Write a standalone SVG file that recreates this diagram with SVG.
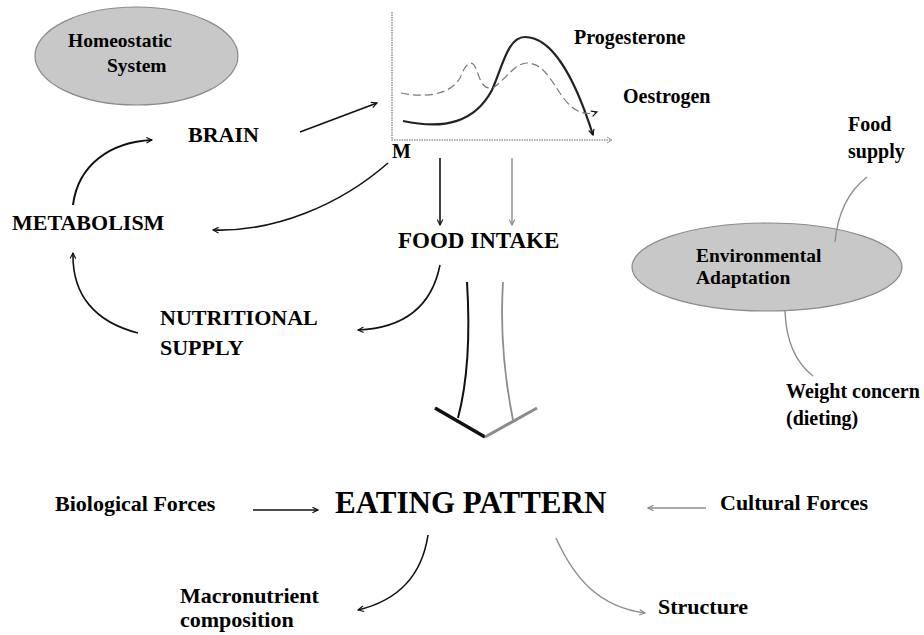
<svg xmlns="http://www.w3.org/2000/svg" width="924" height="635" viewBox="0 0 924 635">
<style>
  text { font-family: "Liberation Serif", "Times New Roman", serif; font-weight: bold; fill: #000; }
  .lbl { font-size: 22px; }
  .sm { font-size: 20px; }
  .el { font-size: 19.5px; }
  .ell { fill: #c8c8c8; stroke: #8a8a8a; stroke-width: 1.2; }
  .blk { fill: none; stroke: #111; stroke-width: 1.6; }
  .gry { fill: none; stroke: #8c8c8c; stroke-width: 1.4; }
  .axis { fill: none; stroke: #9a9a9a; stroke-width: 1.6; stroke-dasharray: 1.5 1; }
</style>
<defs>
  <marker id="ab" viewBox="0 0 10 10" refX="9" refY="5" markerWidth="7" markerHeight="7" orient="auto" markerUnits="userSpaceOnUse">
    <path d="M1 1 L9 5 L1 9" fill="none" stroke="#111" stroke-width="1.6"/>
  </marker>
  <marker id="ag" viewBox="0 0 10 10" refX="9" refY="5" markerWidth="7" markerHeight="7" orient="auto" markerUnits="userSpaceOnUse">
    <path d="M1 1 L9 5 L1 9" fill="none" stroke="#8c8c8c" stroke-width="1.6"/>
  </marker>
</defs>

<g id="homeostatic">
  <ellipse class="ell" cx="136.5" cy="56" rx="101.5" ry="49"/>
  <text class="el" x="68" y="47">Homeostatic</text>
  <text class="el" x="107" y="72">System</text>
</g>

<g id="brain"><text class="lbl" x="188" y="142">BRAIN</text></g>
<g id="metabolism"><text class="lbl" x="12" y="230">METABOLISM</text></g>
<g id="nutritional"><text class="lbl" x="160" y="325">NUTRITIONAL</text><text class="lbl" x="160" y="355">SUPPLY</text></g>
<g id="food-intake"><text class="lbl" x="398" y="248" style="font-size:23px">FOOD INTAKE</text></g>

<g id="hormone-graph">
  <path class="axis" d="M392 12 L392 140 L611 140"/>
  <path d="M607 137 L612 140 L607 143" fill="none" stroke="#9a9a9a" stroke-width="1"/>
  <path d="M403 121 C445 130 475 122 492 90 C503 65 508 37 525 37 C552 37 575 78 593 135" fill="none" stroke="#222" stroke-width="2.2" marker-end="url(#ab)"/>
  <path d="M401 93 C425 98 450 95 460 78 C465 65 470 60 474 65 C480 75 480 90 493 88 C505 80 515 63 527 63 C545 63 553 85 565 100 C575 112 585 116 597 112" fill="none" stroke="#777" stroke-width="1.2" stroke-dasharray="8 4" marker-end="url(#ab)"/>
  <text class="sm" x="392" y="158">M</text>
  <text class="sm" x="574" y="44">Progesterone</text>
  <text class="sm" x="623" y="103">Oestrogen</text>
</g>

<g id="environmental">
  <ellipse class="ell" cx="767" cy="267" rx="135" ry="44"/>
  <text class="el" x="696" y="262">Environmental</text>
  <text class="el" x="696" y="284">Adaptation</text>
</g>
<g id="food-supply"><text class="sm" x="848" y="131">Food</text><text class="sm" x="848" y="158">supply</text></g>
<g id="weight-concern"><text class="sm" x="786" y="398">Weight concern</text><text class="sm" x="786" y="425">(dieting)</text></g>

<g id="eating-pattern"><text x="335" y="513" style="font-size:31px">EATING PATTERN</text></g>
<g id="biological"><text class="lbl" x="55" y="511">Biological Forces</text></g>
<g id="cultural"><text class="lbl" x="720" y="510">Cultural Forces</text></g>
<g id="macronutrient"><text class="lbl" x="180" y="603">Macronutrient</text><text class="lbl" x="180" y="627">composition</text></g>
<g id="structure"><text class="lbl" x="658" y="614">Structure</text></g>

<g id="connectors">
  <path class="blk" d="M300 132 L377 103" marker-end="url(#ab)"/>
  <path class="blk" d="M388 163 C340 205 275 232 213 230" marker-end="url(#ab)"/>
  <path class="blk" d="M73 205 C78 165 110 142 152 140" style="stroke-width:2" marker-end="url(#ab)"/>
  <path class="blk" d="M138 333 C95 322 72 295 73 253" marker-end="url(#ab)"/>
  <path class="blk" d="M440 265 C432 305 405 328 358 330" marker-end="url(#ab)"/>
  <path class="blk" d="M440 158 L440 225" marker-end="url(#ab)"/>
  <path class="gry" d="M512 158 L512 225" marker-end="url(#ag)"/>
  <path class="blk" d="M467 282 C470 330 468 380 458 418" style="stroke-width:2"/>
  <path class="gry" d="M503 282 C500 330 505 380 513 420" style="stroke-width:1.8"/>
  <path d="M435 408 L485 437" stroke="#111" stroke-width="3.5" fill="none"/>
  <path d="M485 437 L537 408" stroke="#8c8c8c" stroke-width="3" fill="none"/>
  <path class="gry" d="M867 177 C850 190 838 210 835 242"/>
  <path class="gry" d="M785 311 C786 340 795 362 813 376"/>
  <path class="blk" d="M253 510 L318 510" marker-end="url(#ab)"/>
  <path class="gry" d="M706 508 L648 508" marker-end="url(#ag)"/>
  <path class="blk" d="M428 535 C422 575 400 600 358 610" marker-end="url(#ab)"/>
  <path class="gry" d="M556 538 C575 580 600 607 645 613" marker-end="url(#ag)"/>
</g>
</svg>
